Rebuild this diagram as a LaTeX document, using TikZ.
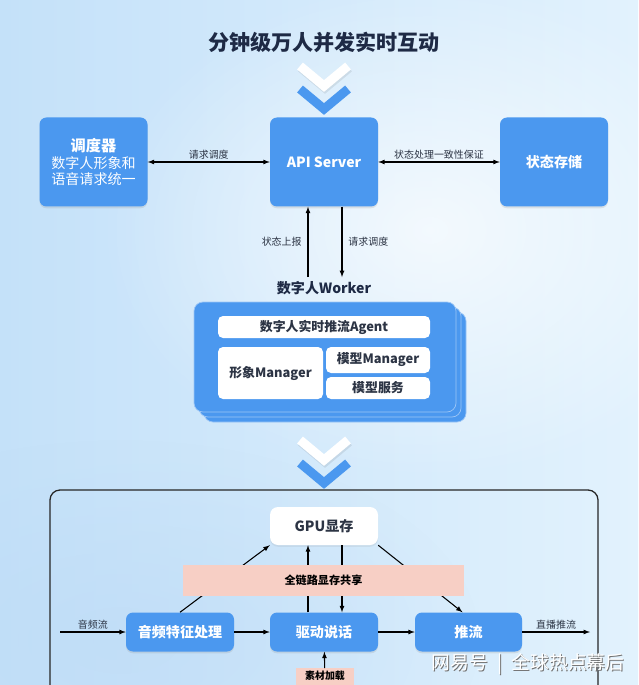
\documentclass[tikz,border=0pt]{standalone}
\usepackage{fontspec}
\setmainfont{Noto Sans CJK SC}
\usepackage{tikz}
\usetikzlibrary{calc, arrows, positioning, shadows, fadings}

\newlength\pxu
\setlength\pxu{0.03cm}

\definecolor{boxblue}{RGB}{75,152,239}
\definecolor{titlecol}{RGB}{30,42,69}
\definecolor{inkcol}{RGB}{44,52,68}
\definecolor{sharepink}{RGB}{247,207,197}
\definecolor{bgleft}{RGB}{196,225,249}
\definecolor{bgright}{RGB}{226,242,253}
\definecolor{bgbot}{RGB}{188,218,246}

\tikzfading[name=glow, inner color=transparent!0, outer color=transparent!100]

\begin{document}
\begin{tikzpicture}
  [
    x=0.03cm, y=-0.03cm,
    >=latex,
    bluebox/.style={fill=boxblue, rounded corners=7\pxu, text=white, align=center,
      font=\bfseries\fontsize{12}{14}\selectfont, inner sep=0pt,
      minimum width=108\pxu, minimum height=89\pxu,
      drop shadow={opacity=0.18, shadow xshift=0pt, shadow yshift=-1.5pt}},
    flowbox/.style={bluebox, minimum height=39\pxu},
    workerbox/.style={fill=boxblue, draw=boxblue!55!white, line width=0.6pt,
      rounded corners=9\pxu, minimum width=262\pxu, minimum height=110\pxu},
    innerbox/.style={fill=white, rounded corners=5\pxu, text=inkcol, inner sep=0pt,
      font=\bfseries\fontsize{11}{13}\selectfont},
    sharebox/.style={fill=sharepink, text=black, inner sep=0pt,
      font=\bfseries\fontsize{9.5}{11}\selectfont},
    lbl/.style={text=inkcol, font=\fontsize{8.5}{10}\selectfont, inner sep=2pt},
    conn/.style={->, black, line width=0.9pt}
  ]
  \useasboundingbox (0,0) rectangle (638,685);
  \clip (0,0) rectangle (638,685);
  % background
  \shade[left color=bgleft, right color=bgright] (0,0) rectangle (638,685);
  \fill[white, path fading=glow, opacity=0.7] (430,230) ellipse (330 and 250);
  \fill[bgbot, path fading=glow, opacity=0.6] (120,640) ellipse (360 and 200);

  % title
  \node[font=\bfseries\fontsize{18}{20}\selectfont, text=titlecol] (title) at (324,42) {分钟级万人并发实时互动};

  % chevrons
  \foreach \y in {66,440} {
    \draw[line width=9\pxu, black, opacity=0.08] (301,\y+2) -- (325,\y+22) -- (349,\y+2);
    \draw[line width=9\pxu, white] (300,\y) -- (324,\y+20) -- (348,\y);
    \draw[line width=9\pxu, boxblue] (300,\y+23) -- (324,\y+43) -- (348,\y+23);
  }

  % api layer
  \node[bluebox] (sched) at (93.5,162)
    {\fontsize{13}{17}\selectfont 调度器\\[1pt]
     {\mdseries\fontsize{12}{17}\selectfont 数字人形象和}\\
     {\mdseries\fontsize{12}{17}\selectfont 语音请求统一}};
  \node[bluebox] (api) at (324,162) {API Server};
  \node[bluebox] (store) at (554,162) {状态存储};

  \draw[<->, line width=0.9pt] (sched) -- node[above, lbl] {请求调度} (api);
  \draw[<->, line width=0.9pt] (api) -- node[above, lbl] {状态处理一致性保证} (store);

  % worker
  \node[font=\bfseries\fontsize{12}{14}\selectfont, text=titlecol] (wlabel) at (324,288) {数字人Worker};
  \draw[conn] ([xshift=-16\pxu]wlabel.north) -- node[left, lbl, xshift=-3pt] {状态上报} ([xshift=-16\pxu]api.south);
  \draw[conn] ([xshift=18\pxu]api.south) -- node[right, lbl, xshift=3pt] {请求调度} ([xshift=18\pxu]wlabel.north);

  \foreach \d in {10,5} {
    \node[workerbox] at (325+\d,357+\d) {};
  }
  \node[workerbox] (worker) at (325,357) {};
  \node[innerbox, minimum width=212\pxu, minimum height=22\pxu] (agent) at (324,327) {数字人实时推流Agent};
  \node[innerbox, minimum width=105\pxu, minimum height=52\pxu] (avatar) at (270.5,373) {形象Manager};
  \node[innerbox, minimum width=104\pxu, minimum height=26\pxu] (modelmgr) at (378,360) {模型Manager};
  \node[innerbox, minimum width=104\pxu, minimum height=22\pxu] (modelsvc) at (378,388) {模型服务};

  % pipeline frame
  \draw[black!85, line width=1.1pt, rounded corners=10\pxu] (50,720) -- (50,490) -- (598,490) -- (598,720);

  \node[innerbox, rounded corners=8\pxu, font=\bfseries\fontsize{12}{14}\selectfont,
    minimum width=108\pxu, minimum height=38\pxu,
    drop shadow={opacity=0.12, shadow xshift=0pt, shadow yshift=-1.5pt}] (gpu) at (324,526) {GPU显存};
  \node[flowbox] (audio) at (180,632) {音频特征处理};
  \node[flowbox] (drive) at (324,632) {驱动说话};
  \node[flowbox, minimum width=107\pxu] (push) at (468.5,632) {推流};
  \node[sharebox, font=\bfseries\fontsize{8.5}{10}\selectfont, anchor=north,
    minimum width=58\pxu, inner ysep=2.5pt, text depth=20pt] (load) at (325,668) {素材加载};

  \coordinate (audioin) at (60,632);
  \coordinate (liveout) at (590,632);
  \draw[conn] (audioin) -- node[above, lbl] {音频流} (audio);
  \draw[conn] (audio) -- (drive);
  \draw[conn] (drive) -- (push);
  \draw[conn] (push) -- node[above, lbl] {直播推流} (liveout);
  \draw[conn] (audio.north) -- (gpu.south west);
  \draw[conn] (gpu.south east) -- ([xshift=-6\pxu]push.north);
  \draw[conn] ([xshift=-16\pxu]drive.north) -- ([xshift=-16\pxu]gpu.south);
  \draw[conn] ([xshift=18\pxu]gpu.south) -- ([xshift=18\pxu]drive.north);
  \draw[conn] (load) -- (drive);

  \node[sharebox, minimum width=281\pxu, minimum height=31\pxu] (share) at (323.5,580.5) {全链路显存共享};

  % watermark
  \node[text=black!55, font=\fontsize{16}{18}\selectfont] (markshade) at (529,665) {网易号\hspace{0.5em}|\hspace{0.5em}全球热点幕后};
  \node[text=white, font=\fontsize{16}{18}\selectfont] (mark) at (528,664) {网易号\hspace{0.5em}|\hspace{0.5em}全球热点幕后};
\end{tikzpicture}
\end{document}
